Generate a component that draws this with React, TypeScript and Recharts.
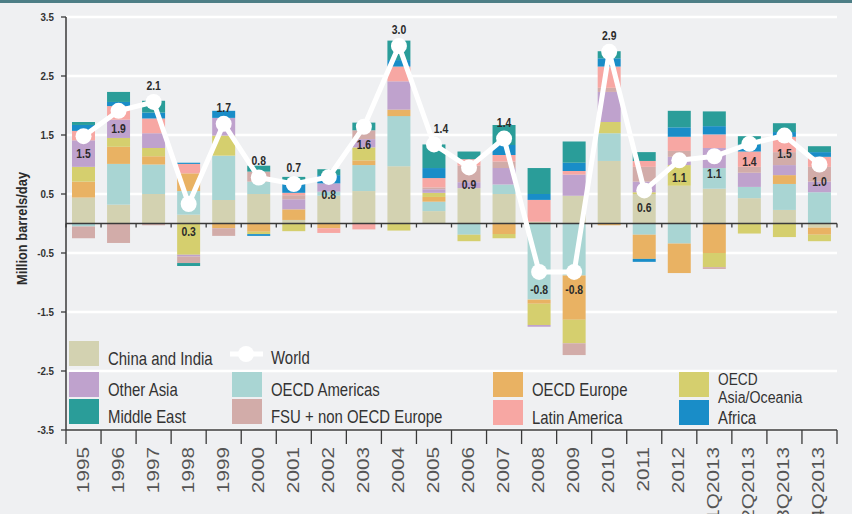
import React from 'react';
import {
  ComposedChart, Bar, Line, XAxis, YAxis, CartesianGrid, ReferenceLine, Legend, LabelList, Label,
} from 'recharts';

const categories = ['1995','1996','1997','1998','1999','2000','2001','2002','2003','2004','2005','2006','2007','2008','2009','2010','2011','2012','1Q2013','2Q2013','3Q2013','4Q2013'];

const chinaIndia = [0.44,0.32,0.5,0.15,0.4,0.5,0.06,0.47,0.55,0.97,0.21,0.6,0.5,0.03,0.47,1.06,0.5,0.64,0.59,0.43,0.23,-0.07];
const oecdAmericas = [-0.05,0.69,0.5,0.4,0.75,0.21,0,0.07,0.44,0.85,0.16,-0.19,0.16,-1.29,-0.88,0.47,-0.19,-0.34,0.35,0.19,0.44,0.53];
const oecdEurope = [0.27,0.29,0.14,0.3,-0.08,-0.14,0.18,-0.08,0.08,0.11,0.08,0,-0.18,-0.07,-0.75,-0.03,-0.41,-0.5,-0.5,0,0.15,-0.12];
const oecdAsiaOceania = [0.25,0.15,0.14,-0.53,0.34,-0.04,-0.13,0,0.22,-0.12,0.07,-0.11,-0.07,-0.36,-0.4,0.19,0.03,0.35,-0.24,-0.17,-0.23,-0.11];
const otherAsia = [0.45,0.31,0.25,-0.03,0.3,0,0.17,0.14,0.14,0.48,0.06,0.1,0.28,-0.03,0.36,0.51,0.18,0.14,0.34,0.24,0.17,0.18];
const fsuNonOecdEurope = [-0.2,-0.33,-0.03,-0.11,-0.13,0.17,0.07,0,0.15,0,0.03,0.28,0.11,0,-0.2,0.07,0.25,0.1,-0.03,0.1,0.22,0.25];
const latinAmerica = [0.16,0.23,0.25,0.16,0,0,0.04,-0.08,-0.1,0.25,0.16,0.11,0.11,0.37,0.06,0.36,0.1,0.24,0.23,0.26,0.26,0.17];
const africa = [0.1,0.07,0.1,0.02,0.12,-0.03,0.16,0.14,0,0.11,0.17,0,0.17,0.1,0.14,0.14,-0.05,0.16,0.14,0.12,0.08,0.08];
const middleEast = [0.05,0.17,0.2,-0.05,0,0.1,0.11,0.1,0.13,0.33,0.4,0.13,0.34,0.44,0.36,0.12,0.15,0.28,0.25,0.14,0.15,0.1];
const world = [1.48,1.91,2.06,0.33,1.69,0.78,0.67,0.79,1.64,3.01,1.34,0.95,1.44,-0.82,-0.82,2.91,0.56,1.07,1.14,1.35,1.49,1.0];
const worldLabels = ['1.5','1.9','2.1','0.3','1.7','0.8','0.7','0.8','1.6','3.0','1.4','0.9','1.4','-0.8','-0.8','2.9','0.6','1.1','1.1','1.4','1.5','1.0'];
const worldLabelSide = ['below','below','above','below2','above','above','above','below','below','above','aboveRight','below','above','below','below','above','below','below','below','below','below','below'];
const yTicks = [-3.5,-2.5,-1.5,-0.5,0.5,1.5,2.5,3.5];

const series = [
  { key: 'china', name: 'China and India', color: '#d3d2b1', values: chinaIndia },
  { key: 'oecdAm', name: 'OECD Americas', color: '#a9d5d3', values: oecdAmericas },
  { key: 'oecdEu', name: 'OECD Europe', color: '#e9b263', values: oecdEurope },
  { key: 'oecdAsia', name: 'OECD Asia/Oceania', color: '#d5cf6e', values: oecdAsiaOceania },
  { key: 'otherAsia', name: 'Other Asia', color: '#bfa2cd', values: otherAsia },
  { key: 'fsu', name: 'FSU + non OECD Europe', color: '#d2aca9', values: fsuNonOecdEurope },
  { key: 'latam', name: 'Latin America', color: '#f7a7a3', values: latinAmerica },
  { key: 'africa', name: 'Africa', color: '#198dc8', values: africa },
  { key: 'me', name: 'Middle East', color: '#2a9d99', values: middleEast },
];

const data = categories.map((cat, i) => {
  const row: any = { cat, world: world[i] };
  series.forEach((s) => { row[s.key] = s.values[i]; });
  return row;
});

const W = 852;
const H = 514;
const M = { top: 17, right: 15, bottom: 0, left: 16 };
const Y_W = 50;
const X_H = 84;
const PLOT_W = W - M.left - M.right - Y_W;
const BW = PLOT_W / categories.length;

const SANS = "'Liberation Sans', Arial, sans-serif";
const AXIS = '#3a3a3a';

// text squeezed horizontally to mimic a condensed face
const SqText = (props: any) => {
  const { x, y, sx = 0.83, rotate = 0, children, ...rest } = props;
  return (
    <g transform={`translate(${x},${y}) rotate(${rotate}) scale(${sx},1)`}>
      <text x={0} y={0} fontFamily={SANS} {...rest}>{children}</text>
    </g>
  );
};

const XTick = (props: any) => {
  const { x, y, payload, index } = props;
  const last = index === categories.length - 1;
  return (
    <g>
      <line x1={x - BW / 2} y1={y} x2={x - BW / 2} y2={y + 14} stroke={AXIS} strokeWidth={1.3} />
      {last && <line x1={x + BW / 2} y1={y} x2={x + BW / 2} y2={y + 14} stroke={AXIS} strokeWidth={1.3} />}
      <g transform={`translate(${x + 5},${y + 17}) rotate(-90) scale(1.22,1)`}>
        <text x={0} y={0} textAnchor="end" fontFamily={SANS} fontSize={17} fill="#555">
          {payload.value}
        </text>
      </g>
    </g>
  );
};

const YTick = (props: any) => {
  const { x, y, payload } = props;
  return (
    <SqText x={x} y={y} sx={0.85} dy="0.35em" textAnchor="end" fontWeight="bold" fontSize={11.5} fill="#333">
      {payload.value}
    </SqText>
  );
};

const ZeroLine = (props: any) => {
  const { x1, y1, x2, y2 } = props;
  const n = categories.length;
  const ticks = [];
  for (let i = 0; i <= n; i++) {
    const tx = x1 + ((x2 - x1) * i) / n;
    ticks.push(<line key={i} x1={tx} y1={y1} x2={tx} y2={y1 + 4} stroke={AXIS} strokeWidth={1.3} />);
  }
  return (
    <g>
      <line x1={x1} y1={y1} x2={x2} y2={y2} stroke={AXIS} strokeWidth={1.5} />
      {ticks}
    </g>
  );
};

const WorldLabel = (props: any) => {
  const { x, y, index } = props;
  const side = worldLabelSide[index];
  let dy = 17;
  let dx = 0;
  if (side === 'above') dy = -17;
  if (side === 'aboveRight') { dy = -16; dx = 7; }
  if (side === 'below2') dy = 27;
  return (
    <SqText
      x={x + dx}
      y={y + dy}
      sx={0.8}
      dominantBaseline="central"
      textAnchor="middle"
      fontWeight="bold"
      fontSize={13}
      fill="#2b2b2b"
    >
      {worldLabels[index]}
    </SqText>
  );
};

const legendCols = [
  { x: 69, tops: [341, 372, 399], items: ['china', 'otherAsia', 'me'] },
  { x: 232, tops: [341, 372, 399], items: ['world', 'oecdAm', 'fsu'] },
  { x: 493, tops: [372, 400], items: ['oecdEu', 'latam'] },
  { x: 679, tops: [372, 400], items: ['oecdAsia', 'africa'] },
];

const LegendContent = () => {
  const els: any[] = [];
  legendCols.forEach((col) => {
    col.items.forEach((key, ri) => {
      const top = col.tops[ri];
      const tx = col.x + 39;
      if (key === 'world') {
        els.push(
          <g key={key}>
            <line x1={col.x - 2} y1={top + 13} x2={col.x + 31} y2={top + 13} stroke="#fff" strokeWidth={5} />
            <circle cx={col.x + 14} cy={top + 13} r={8} fill="#fff" />
            <SqText x={tx} y={top + 23} fontSize={18} fill="#333">World</SqText>
          </g>
        );
        return;
      }
      const s = series.find((q) => q.key === key)!;
      els.push(<rect key={key + 'r'} x={col.x} y={top} width={30} height={25} fill={s.color} />);
      if (key === 'oecdAsia') {
        els.push(<SqText key={key + 't1'} x={tx} y={top + 13} fontSize={16.5} fill="#333">OECD</SqText>);
        els.push(<SqText key={key + 't2'} x={tx} y={top + 31} fontSize={16.5} sx={0.86} fill="#333">Asia/Oceania</SqText>);
      } else {
        els.push(
          <SqText key={key + 't'} x={tx} y={top + 24} fontSize={18} fill="#333">{s.name}</SqText>
        );
      }
    });
  });
  return (
    <svg width={W} height={H} style={{ position: 'absolute', left: 0, top: 0, pointerEvents: 'none' }}>
      {els}
    </svg>
  );
};

export default function App() {
  return (
    <div style={{ position: 'absolute', left: 0, top: 0, width: W, height: H, background: '#eff0f2', overflow: 'hidden' }}>
      <div style={{ position: 'absolute', left: 0, top: 0, width: W, height: 3, background: '#4d7e86' }} />
      <ComposedChart width={W} height={H} data={data} margin={M} stackOffset="sign">
        <CartesianGrid vertical={false} stroke="#ffffff" strokeWidth={2.5} />
        <XAxis
          dataKey="cat"
          interval={0}
          height={X_H}
          tickSize={0}
          tickMargin={0}
          tickLine={false}
          axisLine={{ stroke: AXIS, strokeWidth: 1.5 }}
          tick={<XTick />}
        />
        <YAxis
          type="number"
          domain={[-3.5, 3.5]}
          ticks={yTicks}
          width={Y_W}
          tickSize={5}
          tickMargin={7}
          axisLine={{ stroke: AXIS, strokeWidth: 1.5 }}
          tickLine={{ stroke: AXIS, strokeWidth: 1.3 }}
          tick={<YTick />}
        >
          <Label
            content={(p: any) => {
              const vb = p.viewBox || { x: 0, y: 17, width: 50, height: 413 };
              const cy = vb.y + vb.height / 2 + 5;
              return (
                <SqText
                  x={22}
                  y={cy}
                  rotate={-90}
                  sx={0.86}
                  textAnchor="middle"
                  dominantBaseline="central"
                  fontWeight="bold"
                  fontSize={15}
                  fill="#2b2b2b"
                >
                  Million barrels/day
                </SqText>
              );
            }}
          />
        </YAxis>
        {series.map((s) => (
          <Bar key={s.key} dataKey={s.key} name={s.name} stackId="a" fill={s.color} barSize={23} isAnimationActive={false} />
        ))}
        <ReferenceLine y={0} shape={<ZeroLine />} />
        <Line
          dataKey="world"
          name="World"
          stroke="#ffffff"
          strokeWidth={5}
          dot={{ r: 8, fill: '#ffffff', stroke: 'none' }}
          activeDot={false}
          isAnimationActive={false}
        >
          <LabelList dataKey="world" content={<WorldLabel />} />
        </Line>
        <Legend
          layout="horizontal"
          verticalAlign="middle"
          align="center"
          content={<LegendContent />}
          wrapperStyle={{ position: 'absolute', left: 0, top: 0, width: W, height: 0 }}
        />
      </ComposedChart>
    </div>
  );
}
